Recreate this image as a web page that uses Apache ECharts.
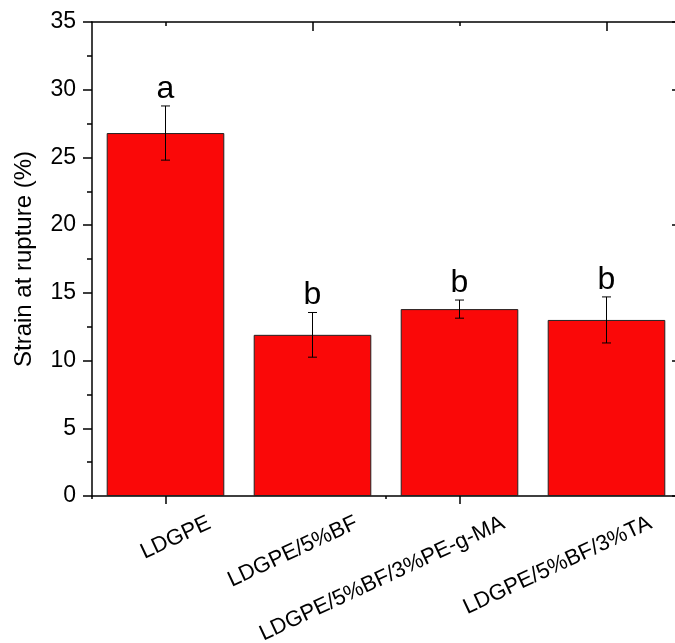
<!DOCTYPE html>
<html>
<head>
<meta charset="utf-8">
<script src="https://cdn.jsdelivr.net/npm/echarts@6/dist/echarts.min.js"></script>
<style>
  html, body { margin: 0; padding: 0; background: #fff; }
  #chart { width: 675px; height: 643px; }
</style>
</head>
<body>
<div id="chart"></div>
<script>
// Formulations on the x axis
const categories = ['LDGPE', 'LDGPE/5%BF', 'LDGPE/5%BF/3%PE-g-MA', 'LDGPE/5%BF/3%TA'];
// Mean strain at rupture (%) and its standard deviation
const strain = [26.8, 11.9, 13.8, 13.0];
const strainErr = [2.0, 1.65, 0.67, 1.7];
// Statistical grouping letters shown above each bar
const groupLetters = ['a', 'b', 'b', 'b'];
// Value axis range
const yMin = 0, yMax = 35, yStep = 5;

const FONT = '"Liberation Sans", Arial, sans-serif';
const plot = { left: 92, top: 22, width: 588, height: 474, outerBoundsMode: 'none', containLabel: false };
const band = plot.width / categories.length;

const chart = echarts.init(document.getElementById('chart'), null, { renderer: 'canvas' });

const hiddenY = { type: 'value', min: yMin, max: yMax, show: false };
const errData = categories.map((c, i) => [i, strain[i], strainErr[i], groupLetters[i]]);
const tickLine = { color: '#000', width: 1.5 };
const frameLine = { show: true, onZero: false, lineStyle: { color: '#000', width: 1.5 } };
const noLine = { show: false, onZero: false };

// Top-frame tick marks: small grids spanning pairs of category centres
function topTickAxis(gridIndex, len) {
  return {
    gridIndex, type: 'value', min: 0, max: 1, interval: 1, position: 'top',
    axisLine: noLine,
    axisTick: { show: true, inside: true, length: len, lineStyle: tickLine },
    axisLabel: { show: false }, splitLine: { show: false }
  };
}

chart.setOption({
  backgroundColor: '#fff',
  animation: false,
  grid: [
    Object.assign({}, plot),                                   // 0 main plot frame
    Object.assign({}, plot, { left: plot.left + 44 }),         // 1 rotated category labels
    Object.assign({}, plot),                                   // 2 boundary ticks
    Object.assign({}, plot, { left: plot.left + band * 1.5, width: band * 2 }), // 3 long top ticks
    Object.assign({}, plot, { left: plot.left + band * 0.5, width: band * 2 })  // 4 short top ticks
  ],
  xAxis: [
    { // bottom axis: line + ticks at category centres
      gridIndex: 0, type: 'category', data: categories, position: 'bottom',
      axisLine: frameLine,
      axisTick: { show: true, alignWithLabel: true, length: 8, lineStyle: tickLine },
      axisLabel: { show: false }, splitLine: { show: false }
    },
    { // top frame line
      gridIndex: 0, type: 'category', data: categories, position: 'top',
      axisLine: frameLine,
      axisTick: { show: false }, axisLabel: { show: false }, splitLine: { show: false }
    },
    { // rotated category labels
      gridIndex: 1, type: 'category', data: categories, position: 'bottom',
      axisLine: noLine, axisTick: { show: false }, splitLine: { show: false },
      axisLabel: { show: true, rotate: 25, margin: 26, interval: 0,
                   color: '#000', fontSize: 22, fontFamily: FONT }
    },
    { // short ticks at category boundaries
      gridIndex: 2, type: 'category', data: categories, position: 'bottom',
      axisLine: noLine,
      axisTick: { show: true, alignWithLabel: false, length: 3, lineStyle: tickLine },
      axisLabel: { show: false }, splitLine: { show: false }
    },
    topTickAxis(3, 9),
    topTickAxis(4, 4)
  ],
  yAxis: [
    {
      gridIndex: 0, type: 'value', min: yMin, max: yMax, interval: yStep, position: 'left',
      name: 'Strain at rupture (%)', nameLocation: 'middle', nameGap: 56,
      nameTextStyle: { color: '#000', fontSize: 24, fontFamily: FONT },
      axisLine: frameLine,
      axisTick: { show: true, length: 9, lineStyle: tickLine },
      minorTick: { show: true, splitNumber: 2, length: 5, lineStyle: tickLine },
      axisLabel: { color: '#000', fontSize: 23, fontFamily: FONT, margin: 16 },
      splitLine: { show: false }
    },
    {
      gridIndex: 0, type: 'value', min: yMin, max: yMax, interval: 10, position: 'right',
      axisLine: frameLine,
      axisTick: { show: true, inside: true, length: 8, lineStyle: tickLine },
      axisLabel: { show: false }, splitLine: { show: false }
    },
    Object.assign({ gridIndex: 1 }, hiddenY),
    Object.assign({ gridIndex: 2 }, hiddenY),
    Object.assign({ gridIndex: 3 }, hiddenY),
    Object.assign({ gridIndex: 4 }, hiddenY)
  ],
  series: [
    {
      type: 'bar', xAxisIndex: 0, yAxisIndex: 0,
      data: strain, barWidth: '80%',
      itemStyle: { color: '#FA0808', borderColor: '#222', borderWidth: 1 },
      z: 2
    },
    {
      type: 'custom', xAxisIndex: 0, yAxisIndex: 0,
      data: errData, z: 5,
      renderItem: function (params, api) {
        const i = api.value(0), v = api.value(1), e = api.value(2);
        const letter = groupLetters[i];
        const top = api.coord([i, v + e]);
        const bot = api.coord([i, v - e]);
        const cap = 4.5;
        const ls = { stroke: '#000', lineWidth: 1 };
        return {
          type: 'group',
          children: [
            { type: 'line', shape: { x1: top[0], y1: top[1], x2: bot[0], y2: bot[1] }, style: ls },
            { type: 'line', shape: { x1: top[0] - cap, y1: top[1], x2: top[0] + cap, y2: top[1] }, style: ls },
            { type: 'line', shape: { x1: bot[0] - cap, y1: bot[1], x2: bot[0] + cap, y2: bot[1] }, style: ls },
            { type: 'text', style: { text: letter, x: top[0], y: top[1] - 1,
                align: 'center', verticalAlign: 'bottom',
                font: '32px ' + FONT, fill: '#000' } }
          ]
        };
      }
    }
  ]
});
</script>
</body>
</html>
